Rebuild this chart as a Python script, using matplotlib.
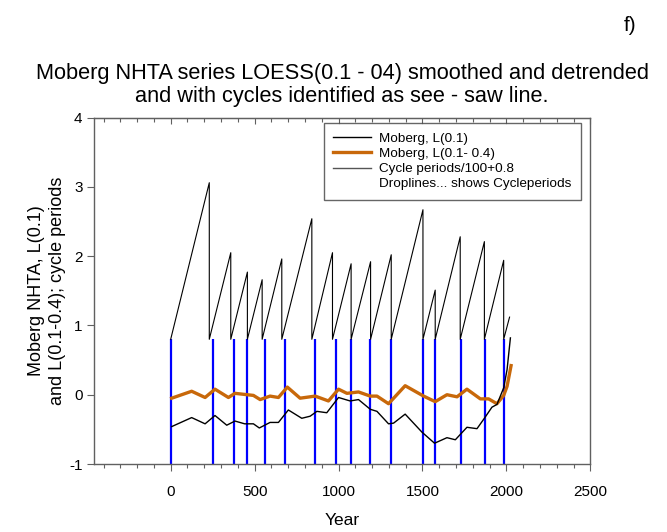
import matplotlib
matplotlib.use('Agg')
import matplotlib.pyplot as plt
from matplotlib.lines import Line2D
from matplotlib.ticker import MultipleLocator

plt.rcParams['font.family'] = ['Liberation Sans', 'DejaVu Sans']
plt.rcParams['axes.unicode_minus'] = False

# Moberg L(0.1) smoothed series (year, value)
moberg_year = [6, 125, 205, 264, 334, 383, 441, 493, 528, 592, 642, 701, 781, 831, 871, 930,
               1000, 1069, 1119, 1189, 1229, 1298, 1328, 1397, 1497, 1572, 1646, 1696, 1765,
               1825, 1869, 1914, 1944, 1984, 2004, 2024]
moberg_l01 = [-0.46, -0.33, -0.42, -0.30, -0.44, -0.38, -0.42, -0.42, -0.48, -0.40, -0.40, -0.22,
              -0.34, -0.31, -0.24, -0.26, -0.04, -0.09, -0.07, -0.21, -0.24, -0.42, -0.41, -0.28,
              -0.54, -0.70, -0.62, -0.65, -0.47, -0.49, -0.34, -0.18, -0.14, 0.10, 0.36, 0.82]

# Moberg L(0.1-0.4) detrended series
detr_year = [6, 125, 205, 264, 344, 383, 493, 533, 592, 642, 695, 771, 861, 940, 1000, 1050,
             1119, 1189, 1229, 1298, 1397, 1507, 1576, 1646, 1706, 1765, 1845, 1894, 1944,
             1984, 2004, 2028]
moberg_l0104 = [-0.05, 0.05, -0.04, 0.08, -0.04, 0.02, -0.01, -0.07, -0.02, -0.04, 0.11, -0.05,
                -0.02, -0.09, 0.08, 0.02, 0.04, -0.02, -0.02, -0.13, 0.13, -0.02, -0.10, 0.00,
                -0.03, 0.08, -0.06, -0.06, -0.13, -0.01, 0.12, 0.42]

# cycle ends (sawtooth peaks): year and period/100+0.8
cycle_end = [230, 358, 457, 545, 662, 841, 964, 1075, 1191, 1314, 1503, 1576, 1725, 1869, 1984]
cycle_peak = [3.06, 2.05, 1.77, 1.66, 1.96, 2.54, 2.05, 1.89, 1.92, 2.02, 2.67, 1.51, 2.28, 2.21, 1.94]
saw_tail_year = 2019
saw_tail_val = 1.12
saw_base = 0.8

# droplines (cycle starts)
drop_years = [0, 252, 377, 455, 563, 680, 859, 984, 1077, 1189, 1314, 1505, 1577, 1727, 1870, 1988]

# build the see-saw line
saw_x = [0]
saw_y = [saw_base]
for x, y in zip(cycle_end, cycle_peak):
    saw_x += [x, x]
    saw_y += [y, saw_base]
saw_x.append(saw_tail_year)
saw_y.append(saw_tail_val)

fig = plt.figure(figsize=(6.67, 5.32), dpi=100)
ax = fig.add_axes([0.1414, 0.1278, 0.7436, 0.6512])

ax.vlines(drop_years, -1, saw_base, colors='#0000ff', linewidth=1.6, zorder=2)
ax.plot(saw_x, saw_y, color='black', linewidth=0.8, zorder=3)
ax.plot(detr_year, moberg_l0104, color='#c8680a', linewidth=2.4, zorder=4)
ax.plot(moberg_year, moberg_l01, color='black', linewidth=1.0, zorder=5)

ax.set_xlim(-455, 2500)
ax.set_ylim(-1, 4)
ax.set_xticks([0, 500, 1000, 1500, 2000, 2500])
ax.xaxis.set_minor_locator(MultipleLocator(100))
ax.yaxis.set_major_locator(MultipleLocator(1))
ax.tick_params(axis='x', which='major', direction='out', length=5, width=0.8, color='#606060',
               labelsize=11, pad=10)
ax.tick_params(axis='x', which='minor', direction='out', length=3, width=0.8, color='#606060')
ax.tick_params(axis='y', which='major', direction='out', length=5, width=0.8, color='#606060',
               labelsize=11)
for s in ax.spines.values():
    s.set_color('#606060')
    s.set_linewidth(1.0)

# top axis: inward ticks, no labels
top = ax.secondary_xaxis('top')
top.set_xticks([0, 500, 1000, 1500, 2000, 2500])
top.xaxis.set_minor_locator(MultipleLocator(100))
top.tick_params(which='major', direction='in', length=4, width=0.8, color='#606060', labeltop=False)
top.tick_params(which='minor', direction='in', length=3, width=0.8, color='#606060')
top.spines['top'].set_color('#606060')

ax.set_xlabel('Year', fontsize=12.5, labelpad=10)
ax.set_ylabel('Moberg NHTA, L(0.1)\nand L(0.1-0.4); cycle periods', fontsize=13, labelpad=2,
              linespacing=1.3)

fig.text(0.513, 0.84, 'Moberg NHTA series LOESS(0.1 - 04) smoothed and detrended\n'
         'and with cycles identified as see - saw line.', ha='center', va='center',
         fontsize=15.7, linespacing=1.12)
fig.text(0.945, 0.953, 'f)', ha='center', va='center', fontsize=15)

handles = [Line2D([], [], color='black', linewidth=1.0),
           Line2D([], [], color='#c8680a', linewidth=2.4),
           Line2D([], [], color='#555555', linewidth=1.0),
           Line2D([], [], color='none')]
labels = ['Moberg, L(0.1)', 'Moberg, L(0.1- 0.4)', 'Cycle periods/100+0.8',
          'Droplines... shows Cycleperiods']
leg = ax.legend(handles, labels, loc='upper right', bbox_to_anchor=(0.981, 0.984),
                borderaxespad=0, fontsize=9.7, frameon=True, fancybox=False,
                handlelength=2.8, labelspacing=0.2, borderpad=0.7, handletextpad=0.6)
leg.get_frame().set_edgecolor('#404040')
leg.get_frame().set_linewidth(1.0)

fig.savefig('out.png', dpi=100)
